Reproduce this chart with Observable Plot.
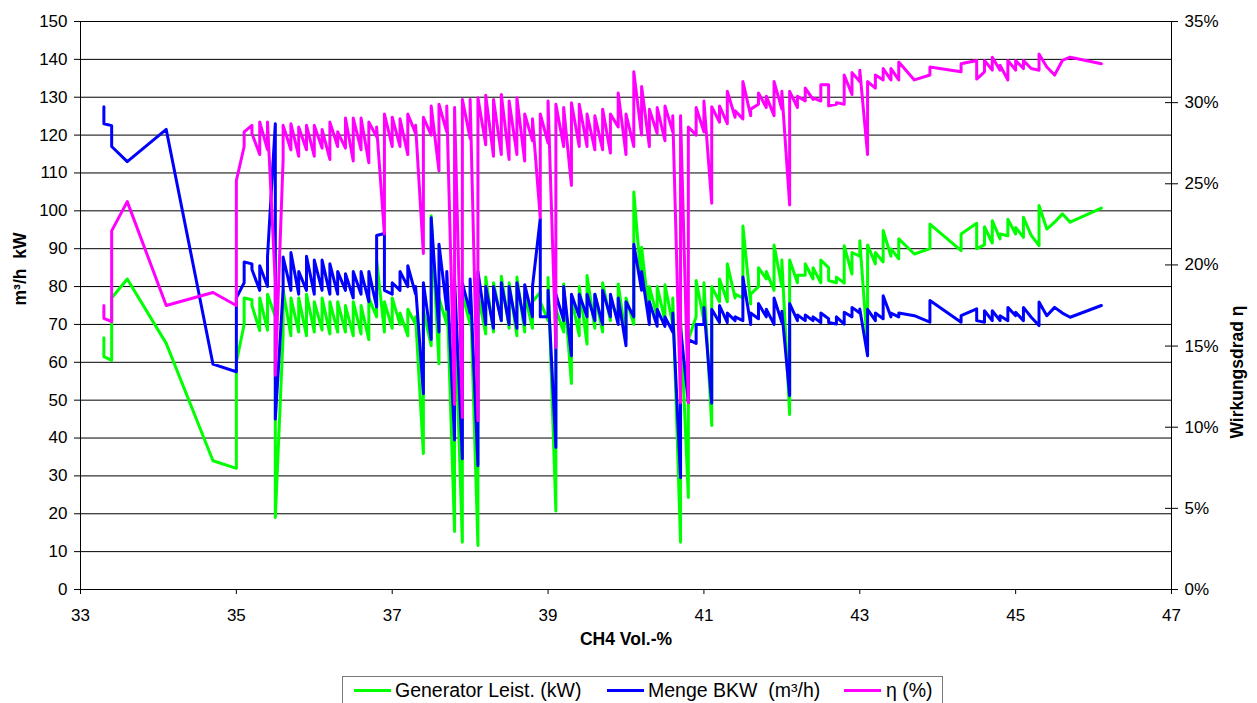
<!DOCTYPE html>
<html>
<head>
<meta charset="utf-8">
<script src="https://cdn.jsdelivr.net/npm/d3@7"></script>
<script src="https://cdn.jsdelivr.net/npm/@observablehq/plot@0.6"></script>
<style>
  html, body { margin: 0; padding: 0; background: #fff; overflow: hidden; }
  #wrap { position: relative; width: 1257px; height: 703px; font-family: 'Liberation Sans', Arial, sans-serif; }
  #legend { position: absolute; left: 342px; top: 676px; width: 601px; height: 40px; border: 1px solid #7a7a7a; box-sizing: border-box; }
  .sw { position: absolute; height: 3px; top: 12px; }
  .lt { position: absolute; top: 4px; font-size: 19.5px; line-height: 19.5px; white-space: pre; color: #000; }
</style>
</head>
<body>
<div id="wrap">
  <div id="chart"></div>
  <div id="legend"></div>
</div>
<script>
// CH4 Vol.-% (x), in drawing order
const ch4 = [33.3,33.3,33.4,33.4,33.6,34.1,34.7,35.0,35.0,35.1,35.1,35.2,35.2,
35.3,35.3,35.4,35.4,35.5,35.5,35.6,35.6,35.7,35.7,35.8,35.8,35.9,35.9,36.0,36.0,
36.1,36.1,36.2,36.2,36.3,36.3,36.4,36.4,36.5,36.5,36.6,36.6,36.7,36.7,36.8,36.8,
36.9,36.9,37.0,37.0,37.1,37.1,37.2,37.2,37.3,37.3,37.4,37.4,37.5,37.5,37.6,37.6,
37.7,37.7,37.8,37.8,37.9,37.9,38.0,38.0,38.1,38.1,38.2,38.2,38.3,38.3,38.4,38.4,
38.5,38.5,38.6,38.6,38.7,38.7,38.8,38.8,38.9,38.9,39.0,39.0,39.1,39.1,39.2,39.2,
39.3,39.3,39.4,39.4,39.5,39.5,39.6,39.6,39.7,39.7,39.8,39.8,39.9,39.9,40.0,40.0,
40.1,40.1,40.2,40.2,40.3,40.3,40.4,40.4,40.5,40.5,40.6,40.6,40.7,40.7,40.8,40.8,
40.9,40.9,41.0,41.0,41.1,41.1,41.2,41.2,41.3,41.3,41.4,41.4,41.5,41.5,41.6,41.6,
41.7,41.7,41.8,41.8,41.9,41.9,42.0,42.0,42.1,42.1,42.2,42.2,42.3,42.3,42.4,42.4,
42.5,42.5,42.6,42.6,42.7,42.7,42.8,42.8,42.9,42.9,43.0,43.0,43.1,43.1,43.2,43.2,
43.3,43.3,43.4,43.4,43.5,43.5,43.7,43.9,43.9,44.3,44.3,44.5,44.5,44.6,44.6,44.7,44.7,
44.8,44.8,44.9,44.9,45.0,45.0,45.1,45.1,45.2,45.3,45.3,45.4,45.5,45.6,45.7,46.1];

// Generator Leist. (kW)
const genLeist = [66.5,61.5,60.5,77,82,65,34,32,60,70,77,76.5,75,
68.4,77,68.5,78,72,19,67,79,67,77,68,77,67,78,68,76,
68.5,77,67.5,76,68,76,68,75,67,76,67.5,75,66,77,72,87,
68,76,69,77,70,73,67,74,70,72,35.9,73.7,64.4,98.7,59.6,77,
70,80,15.3,77,12.5,78,70,80,11.6,78,67.5,82.5,68,81,71,82.7,
69,81,67,82.5,68,78,69,76,78.5,76,71,82.4,20.7,74,68,80.7,
54.4,77,67,80,64.8,82.9,69,78,68,81,71,76,72,80.7,66,77,
70,105,80,90.4,72,80,72,80,71,80.5,70,77,12.5,72,24.3,66,
72,81.6,71,81,43.3,80,76,82,76,86,77,78,77,96,75.4,78,
80,85,82,84,79,91,80,87,46.2,87,81,83,83,86,82,85,
81,87,85,81.6,81,82.5,80.9,90.8,83.3,89,88,92.1,64,91,86,89,
86.5,94.8,88,90,87.3,92.6,88.6,90,96.5,89.5,93.9,96.7,90,91,95.8,91.5,97.4,
92.6,93.9,93.4,97.8,93.9,95.6,93,98.3,93.5,90.8,101.4,95.2,97,99.2,97,100.7];

// Menge BKW (m³/h)
const mengeBKW = [127.5,123,122.5,117,113,121.5,59.5,57.5,77,81,86.5,86,84.5,
79,85.5,80,88,123,45,79,87.8,79,89,78,84,79,88,78,87,
79,87,78,86,78,84,79,83.4,77,84,78,84,76,84,74.6,93.5,
94,79,78,81,79,84,80,85.5,78,80,51.7,81,66,98.2,68,91.2,
74,84,39.5,82,34.5,81,73,82,32.7,84,70,80,69,80,71,81,
70,80,69,81,70,80.5,72,80,98,72,72,79,37.5,78,71,80,
61.7,78,72,78,72,78,71,78,70,79,72,78,70,77,64.4,76,
72,91.2,79,84,70,76,69.5,74,69.5,72,68,73,29.5,69,49.4,66,
65,70,70,74.5,49.2,74,70.5,75,70.5,73,71,72,71,82.5,70,73,
71.5,75.5,72,74,70,77,70.5,73.5,51.2,75.5,71,72.5,71,72.5,71,72,
70.5,73,71.5,70.5,70.1,72,70.1,73.2,72,74.5,73,74.1,61.7,74,71,73,
71.5,77.6,72,73,72,73,72.3,70.6,76.3,70.6,72.3,74.1,71,70.6,73.6,71,73.6,
71,72.3,71,74.5,72.3,73.2,71,74.5,71.9,69.7,75.9,72.3,74.5,73,71.9,75];

// η (%) – Wirkungsgrad, right axis
const etaPct = [17.5,16.7,16.5,22.1,23.9,17.5,18.3,17.5,25.2,27.3,28.2,28.6,28.1,
26.8,28.8,27.1,28.8,18.9,13.2,26.5,28.6,27.1,28.7,26.7,28.5,27.1,28.6,26.7,28.6,
27.2,28.35,26.5,28.8,27.3,28.2,27.2,29.05,26.4,29.05,27.1,29.05,26.3,28.8,27.9,28.5,
21.9,29.3,27.3,29.1,27.3,29.0,26.8,29.3,28.1,28.6,20.7,29.1,28.0,29.8,25.8,29.9,
28.2,29.8,11.4,29.7,10.6,30.2,27.8,30.2,10.4,30.3,27.4,30.45,26.7,30.2,26.8,30.5,
26.5,30.1,26.8,30.3,26.4,29.3,27.65,29.0,22.9,29.3,27.5,30.1,14.9,29.9,27.3,29.7,
24.9,30.0,27.3,29.9,27.3,29.3,27.1,29.2,27.1,29.6,26.9,29.3,28.5,30.6,26.8,29.3,
27.3,31.9,28.0,31.0,27.3,29.6,28.1,29.7,27.65,29.8,28.2,29.2,11.5,29.2,11.5,28.5,
28.0,29.7,28.2,30.1,23.8,29.75,28.8,29.8,28.7,30.7,29.1,29.5,29.0,31.3,29.2,29.6,
29.9,30.6,29.7,30.4,29.2,31.3,29.6,30.7,23.7,30.7,29.7,30.4,30.1,30.9,30.2,30.3,
30.1,31.1,31.1,29.8,29.9,30.0,29.9,31.7,30.5,31.85,31.3,32.0,26.8,31.3,30.9,31.7,
31.4,32.1,31.4,32.1,31.4,32.5,31.4,31.7,32.2,31.9,32.4,32.6,31.45,31.9,32.6,32.0,32.8,
32.0,32.3,31.4,32.6,32.0,32.6,32.1,32.6,32.1,32.0,33.0,32.2,31.7,32.6,32.8,32.4];

// tick labels
const xTicks = [33, 35, 37, 39, 41, 43, 45, 47];
const yTicks = [0, 10, 20, 30, 40, 50, 60, 70, 80, 90, 100, 110, 120, 130, 140, 150];
const etaTicks = [0, 5, 10, 15, 20, 25, 30, 35];

const series = [
  {name: "Generator Leist. (kW)", color: "#00ff00"},
  {name: "Menge BKW  (m³/h)", color: "#0000ff"},
  {name: "η (%)", color: "#ff00ff"}
];

const yMax = 150, etaMax = 35;
const rows = ch4.map((x, i) => ({x, gen: genLeist[i], menge: mengeBKW[i], eta: etaPct[i]}));
const etaToY = p => p * yMax / etaMax;

const chart = Plot.plot({
  width: 1257,
  height: 668,
  marginLeft: 80,
  marginRight: 86,
  marginTop: 21,
  marginBottom: 79,
  x: {domain: [33, 47]},
  y: {domain: [0, yMax]},
  style: {fontFamily: "'Liberation Sans', Arial, sans-serif", fontSize: "17px", color: "#000", background: "#fff", overflow: "visible"},
  marks: [
    Plot.ruleY(yTicks.filter(d => d > 0), {stroke: "#000", strokeWidth: 1}),
    Plot.line(rows, {x: "x", y: "gen", stroke: series[0].color, strokeWidth: 3}),
    Plot.line(rows, {x: "x", y: "menge", stroke: series[1].color, strokeWidth: 3}),
    Plot.line(rows, {x: "x", y: d => etaToY(d.eta), stroke: series[2].color, strokeWidth: 3}),
    Plot.ruleX([33, 47], {stroke: "#000", strokeWidth: 1}),
    Plot.ruleY([0], {stroke: "#000", strokeWidth: 1}),
    Plot.axisY({anchor: "left", ticks: yTicks, tickSize: 6, tickPadding: 7, label: null, fontSize: 17}),
    Plot.axisY({anchor: "right", ticks: etaTicks.map(etaToY), tickFormat: v => Math.round(v * etaMax / yMax) + "%", tickSize: 6, tickPadding: 7, label: null, fontSize: 17}),
    Plot.ruleY(etaTicks, {y: etaToY, x1: 47 - 6 / 78, x2: 47, stroke: "#000"}),
    Plot.axisX({ticks: xTicks, tickSize: 5, tickPadding: 14, label: null, fontSize: 17}),
    Plot.text(["m³/h\u00a0\u00a0kW"], {text: d => d, frameAnchor: "left", dx: -60, rotate: -90, fontWeight: "bold", fontSize: 17.5}),
    Plot.text(["Wirkungsdrad η"], {text: d => d, frameAnchor: "right", dx: 66, rotate: -90, fontWeight: "bold", fontSize: 17.5}),
    Plot.text(["CH4 Vol.-%"], {text: d => d, frameAnchor: "bottom", dy: 55, fontWeight: "bold", fontSize: 17.5})
  ]
});
document.getElementById("chart").appendChild(chart);

// legend
const legend = document.getElementById("legend");
const swX = [11, 264, 501];
const txX = [52, 305, 543];
series.forEach((s, i) => {
  const sw = document.createElement("div");
  sw.className = "sw";
  sw.style.left = swX[i] + "px";
  sw.style.width = "37px";
  sw.style.background = s.color;
  legend.appendChild(sw);
  const t = document.createElement("div");
  t.className = "lt";
  t.style.left = txX[i] + "px";
  t.textContent = s.name;
  legend.appendChild(t);
});
</script>
</body>
</html>
